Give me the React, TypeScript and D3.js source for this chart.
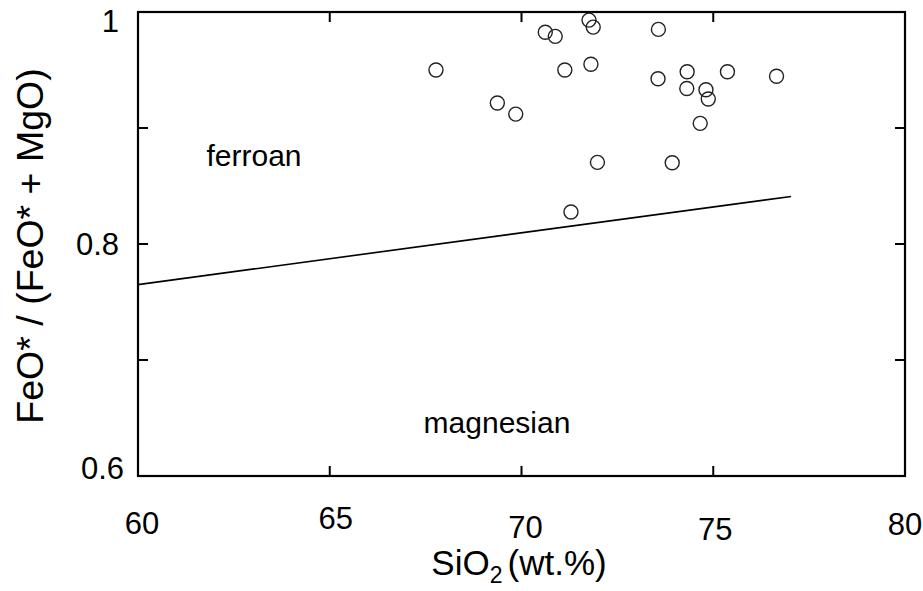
import React from "react";
import * as d3 from "d3";

const sio2 = [67.77, 70.62, 70.88, 71.76, 71.87, 73.57, 71.13, 71.81, 73.56, 74.32, 75.37, 76.65, 74.31, 74.81, 74.87, 69.37, 69.85, 74.66, 71.98, 73.93, 71.29];
const feNumber = [0.950, 0.9825, 0.979, 0.993, 0.987, 0.985, 0.950, 0.955, 0.9425, 0.9485, 0.9485, 0.9446, 0.934, 0.933, 0.925, 0.9216, 0.912, 0.904, 0.8704, 0.870, 0.8276];
const boundaryX = [60, 77.03];
const boundaryY = [0.765, 0.841];
const xTicks = [60, 65, 70, 75, 80];
const yTicks = [0.6, 0.7, 0.8, 0.9, 1.0];
const yTickLabels = ["0.6", "", "0.8", "", "1"];

const W = 923;
const H = 591;
const M = { left: 138, right: 905, top: 12, bottom: 476 };
const FONT = "'Liberation Sans', Arial, sans-serif";

export default function App() {
  const x = d3.scaleLinear().domain([60, 80]).range([M.left, M.right]);
  const y = d3.scaleLinear().domain([0.6, 1.0]).range([M.bottom, M.top]);
  const line = d3.line<[number, number]>().x((d) => x(d[0])).y((d) => y(d[1]));
  const boundary: [number, number][] = boundaryX.map((v, i) => [v, boundaryY[i]]);
  const tickLen = 10;
  const innerX = xTicks.slice(1, -1);
  const innerY = yTicks.slice(1, -1);
  const xLabelDy = [0, -5, 4, 6, 1];
  const xLabelDx = [4, 6, 4, 2, 0];
  const yLabelDy = [-8, 0, 0, 0, 9];
  const yLabelDx = [5, 0, 0, 0, 0];

  return (
    <svg width={W} height={H} style={{ position: "absolute", left: 0, top: 0, background: "#fff" }}>
      <rect x={0} y={0} width={W} height={H} fill="#fff" />
      <g stroke="#000" strokeWidth={2}>
        {innerX.map((t) => (
          <g key={"xt" + t}>
            <line x1={x(t)} x2={x(t)} y1={M.bottom} y2={M.bottom - tickLen} />
            <line x1={x(t)} x2={x(t)} y1={M.top} y2={M.top + tickLen} />
          </g>
        ))}
        {innerY.map((t) => (
          <g key={"yt" + t}>
            <line x1={M.left} x2={M.left + tickLen} y1={y(t)} y2={y(t)} />
            <line x1={M.right} x2={M.right - tickLen} y1={y(t)} y2={y(t)} />
          </g>
        ))}
      </g>
      <path d={line(boundary) || ""} fill="none" stroke="#000" strokeWidth={1.6} />
      <g fill="none" stroke="#222" strokeWidth={1.4}>
        {sio2.map((v, i) => (
          <circle key={i} cx={x(v)} cy={y(feNumber[i])} r={7} />
        ))}
      </g>
      <rect x={M.left} y={M.top} width={M.right - M.left} height={M.bottom - M.top} fill="none" stroke="#000" strokeWidth={2.2} />
      <g fontFamily={FONT} fontSize={31} fill="#000">
        {xTicks.map((t, i) => (
          <text key={"xl" + t} x={x(t) + xLabelDx[i]} y={523 + xLabelDy[i]} textAnchor="middle" dominantBaseline="central">
            {t}
          </text>
        ))}
        {yTicks.map((t, i) =>
          yTickLabels[i] ? (
            <text key={"yl" + t} x={119 + yLabelDx[i]} y={y(t) + yLabelDy[i]} textAnchor="end" dominantBaseline="central">
              {yTickLabels[i]}
            </text>
          ) : null
        )}
      </g>
      <g fontFamily={FONT} fontSize={30} fill="#000">
        <text x={254} y={155} textAnchor="middle" dominantBaseline="central">ferroan</text>
        <text x={497} y={422} textAnchor="middle" dominantBaseline="central">magnesian</text>
      </g>
      <text x={519} y={575} textAnchor="middle" fontFamily={FONT} fontSize={35} fill="#000">
        SiO<tspan fontSize={23} dy={8}>2</tspan>
        <tspan dx={5} dy={-8}>(wt.%)</tspan>
      </text>
      <text
        transform={`translate(43, 246) rotate(-90)`}
        textAnchor="middle"
        fontFamily={FONT}
        fontSize={37.5}
        fill="#000"
      >
        FeO* / (FeO* + MgO)
      </text>
    </svg>
  );
}
